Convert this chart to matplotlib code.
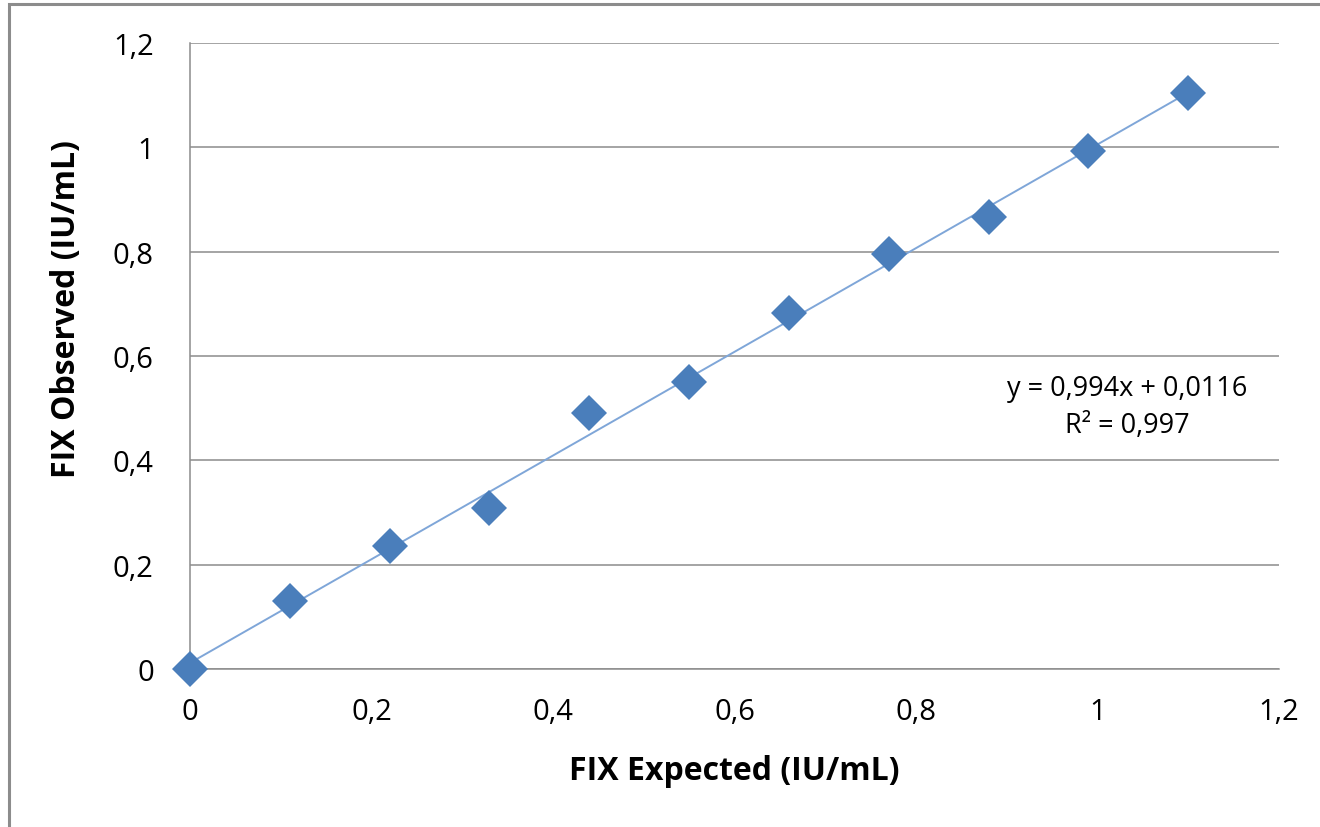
import matplotlib.pyplot as plt
from matplotlib.patches import Rectangle
from matplotlib.ticker import FuncFormatter

# data
expected = [0.0, 0.11, 0.22, 0.33, 0.44, 0.55, 0.66, 0.77, 0.88, 0.99, 1.10]
observed = [0.0, 0.130, 0.236, 0.309, 0.491, 0.550, 0.682, 0.795, 0.866, 0.993, 1.104]
slope = 0.994
intercept = 0.0116
r2 = 0.997
x_ticks = [0, 0.2, 0.4, 0.6, 0.8, 1.0, 1.2]
y_ticks = [0, 0.2, 0.4, 0.6, 0.8, 1.0, 1.2]

plt.rcParams['font.family'] = ['Open Sans', 'DejaVu Sans']

fig = plt.figure(figsize=(13.2, 8.28), dpi=100)
fig.patches.append(Rectangle((0.007, -0.05), 1.1, 1.044, transform=fig.transFigure,
                             fill=False, edgecolor='#8c8c8c', linewidth=2.2))

ax = fig.add_axes([0.1439, 0.1908, 0.8251, 0.7561])

fit_x = [expected[0], expected[-1]]
fit_y = [slope * v + intercept for v in fit_x]
ax.plot(fit_x, fit_y, color='#7fa6d8', linewidth=1.4, zorder=2)
ax.plot(expected, observed, linestyle='none', marker='D', markersize=18,
        color='#4a7ebb', markeredgewidth=0, zorder=3, clip_on=False)

ax.set_xlim(0, 1.2)
ax.set_ylim(0, 1.2)
ax.set_xticks(x_ticks)
ax.set_yticks(y_ticks)
comma = FuncFormatter(lambda v, p: ('%g' % round(v, 2)).replace('.', ','))
ax.xaxis.set_major_formatter(comma)
ax.yaxis.set_major_formatter(comma)
ax.tick_params(length=0, labelsize=21, colors='black')
ax.tick_params(axis='x', pad=20)
ax.tick_params(axis='y', pad=26)

ax.grid(axis='y', color='#8c8c8c', linewidth=1.1)
ax.set_axisbelow(True)
for s in ['top', 'right']:
    ax.spines[s].set_visible(False)
for s in ['left', 'bottom']:
    ax.spines[s].set_color('#8c8c8c')
    ax.spines[s].set_linewidth(1.1)

ax.set_xlabel('FIX Expected (IU/mL)', fontsize=23, fontweight='bold', labelpad=20)
ax.set_ylabel('FIX Observed (IU/mL)', fontsize=23, fontweight='bold')
ax.yaxis.set_label_coords(-0.098, 0.577)

eq = 'y = %sx + %s\nR² = %s' % (str(slope).replace('.', ','),
                                  str(intercept).replace('.', ','),
                                  str(r2).replace('.', ','))
ax.text(1.033, 0.503, eq, fontsize=19.5, ha='center', va='center', linespacing=1.45)

fig.savefig('out.png', dpi=100)
